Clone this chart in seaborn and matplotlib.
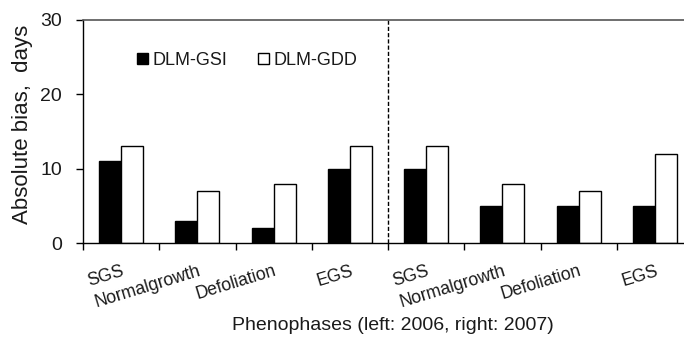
import matplotlib
matplotlib.use("Agg")
import matplotlib.pyplot as plt
import seaborn as sns
import pandas as pd
from matplotlib.patches import Patch

phases = ["SGS", "Normalgrowth", "Defoliation", "EGS"]
years = ["2006", "2007"]
gsi_2006 = [11, 3, 2, 10]
gdd_2006 = [13, 7, 8, 13]
gsi_2007 = [10, 5, 5, 5]
gdd_2007 = [13, 8, 7, 12]
series = ["DLM-GSI", "DLM-GDD"]

rows = []
for y, gsi, gdd in [("2006", gsi_2006, gdd_2006), ("2007", gsi_2007, gdd_2007)]:
    for p, a, b in zip(phases, gsi, gdd):
        key = f"{y} {p}"
        rows.append({"cat": key, "model": series[0], "val": a})
        rows.append({"cat": key, "model": series[1], "val": b})
df = pd.DataFrame(rows)
order = [f"{y} {p}" for y in years for p in phases]

sns.set_theme(style="white")
plt.rcParams["font.family"] = ["Liberation Sans", "DejaVu Sans"]

fig = plt.figure(figsize=(6.84, 3.5), dpi=100)
ax = fig.add_axes([83/684, 107/350, 610/684, 223/350])

sns.barplot(data=df, x="cat", y="val", hue="model", order=order,
            hue_order=series, palette={"DLM-GSI": "black", "DLM-GDD": "white"},
            width=0.58, gap=0, edgecolor="black", linewidth=1.0, ax=ax,
            legend=False, saturation=1)

ax.set_xlim(-0.5, len(order) - 0.5)
ax.set_ylim(0, 30)
ax.set_yticks([0, 10, 20, 30])
ax.tick_params(axis="y", which="major", direction="out", length=5, width=1,
               color="black", labelsize=14, left=True, pad=10,
               labelcolor="#1a1a1a")
ax.set_xticks(range(len(order)))
ax.set_xticklabels(phases * 2, rotation=17, ha="right", va="top",
                   rotation_mode="anchor", fontsize=12.7, color="#1a1a1a")
ax.tick_params(axis="x", which="major", length=0, pad=14)
ax.set_xticks([i - 0.5 for i in range(len(order) + 1)], minor=True)
ax.tick_params(axis="x", which="minor", direction="out", length=5, width=1,
               color="black", bottom=True)

ax.spines["right"].set_visible(False)
ax.spines["top"].set_color("#555555")
ax.spines["top"].set_linewidth(1.2)
for s in ["left", "bottom"]:
    ax.spines[s].set_color("black")
    ax.spines[s].set_linewidth(1)

ax.axvline(3.5, color="black", linestyle=(0, (3, 1.5)), linewidth=1.0)

ax.set_ylabel("Absolute bias,  days", fontsize=16, color="#1a1a1a")
ax.yaxis.set_label_coords((33 - 83) / 610, 0.53)
ax.set_xlabel("Phenophases (left: 2006, right: 2007)", fontsize=14, color="#1a1a1a")
ax.xaxis.set_label_coords((393 - 83) / 610, -(317 - 243) / 223)

handles = [Patch(facecolor="black", edgecolor="black", label=series[0]),
           Patch(facecolor="white", edgecolor="black", label=series[1])]
ax.legend(handles=handles, loc="upper left",
          bbox_to_anchor=((137 - 83) / 610, (243 - 52) / 223),
          borderaxespad=0, borderpad=0,
          ncol=2, frameon=False, fontsize=13, handlelength=0.6, handleheight=0.6,
          handletextpad=0.25, columnspacing=1.7, labelcolor="#1a1a1a")

fig.savefig("out.png", dpi=100)
